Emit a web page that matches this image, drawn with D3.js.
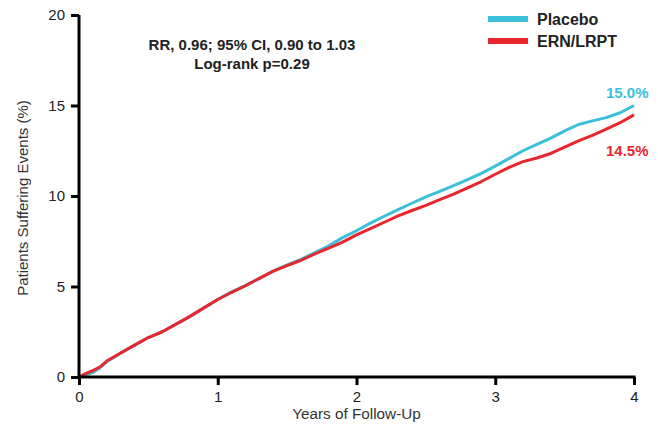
<!DOCTYPE html>
<html>
<head>
<meta charset="utf-8">
<script src="https://cdn.jsdelivr.net/npm/d3@7"></script>
<style>
  body { margin: 0; background: #fff; }
  svg { font-family: "Liberation Sans", Arial, sans-serif; }
</style>
</head>
<body>
<script>
// years of follow-up and cumulative event rate (%)
const years = [0, 0.05, 0.1, 0.15, 0.2, 0.3, 0.4, 0.5, 0.6, 0.7, 0.8, 0.9, 1.0,
  1.1, 1.2, 1.3, 1.4, 1.5, 1.6, 1.7, 1.8, 1.9, 2.0, 2.1, 2.2, 2.3, 2.4, 2.5,
  2.6, 2.7, 2.8, 2.9, 3.0, 3.1, 3.2, 3.3, 3.4, 3.5, 3.6, 3.7, 3.8, 3.9, 4.0]
const placebo = [0, 0.1, 0.25, 0.5, 0.85, 1.32, 1.75, 2.18, 2.5, 2.92, 3.35, 3.82, 4.28,
  4.7, 5.05, 5.45, 5.85, 6.2, 6.5, 6.88, 7.25, 7.7, 8.08, 8.5, 8.88, 9.25, 9.6, 9.95,
  10.25, 10.57, 10.9, 11.25, 11.65, 12.08, 12.5, 12.85, 13.2, 13.6, 13.95, 14.15, 14.33, 14.6, 15.0]
const ernLrpt = [0, 0.2, 0.35, 0.55, 0.88, 1.33, 1.76, 2.18, 2.5, 2.92, 3.35, 3.82, 4.28,
  4.68, 5.05, 5.45, 5.85, 6.15, 6.45, 6.8, 7.12, 7.45, 7.85, 8.2, 8.55, 8.9, 9.2, 9.48,
  9.8, 10.1, 10.45, 10.8, 11.2, 11.58, 11.9, 12.1, 12.35, 12.7, 13.05, 13.35, 13.7, 14.05, 14.48]

const xTicks = [0, 1, 2, 3, 4]
const yTicks = [0, 5, 10, 15, 20]

const series = [
  { name: 'Placebo', values: placebo, color: '#3bbfda', end: '15.0%', endY: 98 },
  { name: 'ERN/LRPT', values: ernLrpt, color: '#e8262d', end: '14.5%', endY: 156 }
]

const m = { width: 658, height: 428, left: 79, right: 634, top: 15, bottom: 377 }

const svg = d3.select('body').append('svg')
  .attr('width', m.width)
  .attr('height', m.height)

const x = d3.scaleLinear().domain([0, 4]).range([m.left, m.right])
const y = d3.scaleLinear().domain([0, 20]).range([m.bottom, m.top])

// curves
const line = d3.line()
  .x(function(d) { return x(d[0]) })
  .y(function(d) { return y(d[1]) })

series.forEach(function(s) {
  svg.append('path')
    .datum(years.map(function(t, i) { return [t, s.values[i]] }))
    .attr('fill', 'none')
    .attr('stroke', s.color)
    .attr('stroke-width', 3)
    .attr('stroke-linejoin', 'round')
    .attr('d', line)

  svg.append('text')
    .attr('x', 606)
    .attr('y', s.endY)
    .attr('fill', s.color)
    .attr('font-size', 15)
    .attr('font-weight', 'bold')
    .text(s.end)
})

// axes
const xAxis = svg.append('g')
  .attr('transform', 'translate(0,' + m.bottom + ')')
  .call(d3.axisBottom(x).tickValues(xTicks).tickSize(8).tickPadding(6).tickFormat(d3.format('d')))
const yAxis = svg.append('g')
  .attr('transform', 'translate(' + m.left + ',0)')
  .call(d3.axisLeft(y).tickValues(yTicks).tickSize(8).tickPadding(6).tickFormat(d3.format('d')))

;[xAxis, yAxis].forEach(function(a) {
  a.select('.domain').attr('stroke', '#000').attr('stroke-width', 3)
    .attr('d', a === xAxis ? 'M' + (m.left - 1.5) + ',0H' + (m.right + 1.5) : 'M0,' + (m.top) + 'V' + (m.bottom + 1.5))
  a.selectAll('.tick line').attr('stroke', '#000').attr('stroke-width', 3)
  a.selectAll('.tick text').attr('fill', '#222').attr('font-size', 15)
    .attr('font-family', '"Liberation Sans", Arial, sans-serif')
})

// axis titles
svg.append('text')
  .attr('x', (m.left + m.right) / 2)
  .attr('y', 419)
  .attr('text-anchor', 'middle')
  .attr('font-size', 15.3)
  .attr('fill', '#333')
  .text('Years of Follow-Up')

svg.append('text')
  .attr('transform', 'translate(28,' + 198 + ') rotate(-90)')
  .attr('text-anchor', 'middle')
  .attr('font-size', 15)
  .attr('fill', '#333')
  .text('Patients Suffering Events (%)')

// stats
svg.append('text')
  .attr('x', 252).attr('y', 50)
  .attr('text-anchor', 'middle')
  .attr('font-size', 15)
  .attr('font-weight', 'bold')
  .attr('fill', '#222')
  .text('RR, 0.96; 95% CI, 0.90 to 1.03')
svg.append('text')
  .attr('x', 252).attr('y', 69)
  .attr('text-anchor', 'middle')
  .attr('font-size', 15)
  .attr('font-weight', 'bold')
  .attr('fill', '#222')
  .text('Log-rank p=0.29')

// legend
const legend = svg.append('g')
series.forEach(function(s, i) {
  const ly = 19 + i * 22
  legend.append('line')
    .attr('x1', 488).attr('x2', 528)
    .attr('y1', ly).attr('y2', ly)
    .attr('stroke', s.color)
    .attr('stroke-width', 6)
  legend.append('text')
    .attr('x', 537).attr('y', ly + 5.5)
    .attr('font-size', 16)
    .attr('font-weight', 'bold')
    .attr('fill', '#222')
    .text(s.name)
})
</script>
</body>
</html>
